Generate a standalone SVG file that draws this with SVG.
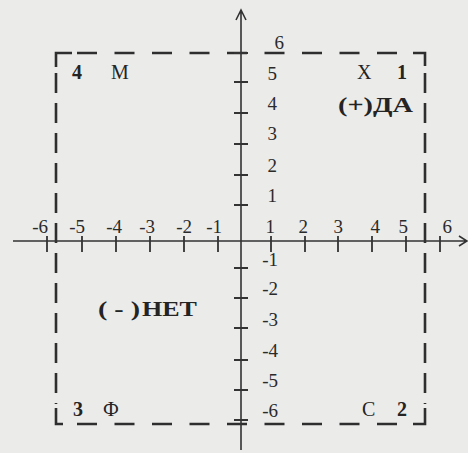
<svg xmlns="http://www.w3.org/2000/svg" width="468" height="453" viewBox="0 0 468 453">
<style>
.ax{stroke:#333;stroke-width:1.6;fill:none}
.tk{stroke:#333;stroke-width:1.8;fill:none}
.bx{stroke:#2e2e2e;stroke-width:2.6;fill:none}
.n{font-family:"Liberation Serif","Times New Roman",serif;font-size:19px;fill:#2a2a2a}
.e{text-anchor:end}
.b{font-weight:bold}
.l{font-family:"Liberation Serif","Times New Roman",serif;font-size:20px;fill:#242424}
</style>
<rect x="0" y="0" width="468" height="453" fill="#ebebea"/>
<g id="frame">
<path class="bx" d="M77 53H413" stroke-dasharray="20 17.5"/>
<path class="bx" d="M77 424H413" stroke-dasharray="20 17.5"/>
<path class="bx" d="M56 73V404" stroke-dasharray="20 10"/>
<path class="bx" d="M425 73V404" stroke-dasharray="20 10"/>
<path class="bx" d="M56 67V53H72"/>
<path class="bx" d="M413 53H425V66"/>
<path class="bx" d="M56 408V424H63"/>
<path class="bx" d="M413 424H425V408"/>
</g>
<g id="connectors">
<path class="ax" d="M241 450V10M236 20L241 10L246 20"/>
<path class="ax" d="M13 241H467M459 236L467 241L459 246"/>
<path class="tk" d="M47 236V252M82 236V252M116 236V252M150 236V252M184 236V252M218 236V252M271 236V252M305 236V252M338 236V252M372 236V252M406 236V252M440 236V252"/>
<path class="tk" d="M234 53H248M234 82H248M234 113H248M234 144H248M234 175H248M234 205H248M234 268H248M234 298H248M234 328H248M234 360H248M234 390H248M234 420H248"/>
</g>
<g id="x-labels" class="n e">
<text x="48" y="233">-6</text>
<text x="85" y="233">-5</text>
<text x="122" y="233">-4</text>
<text x="155" y="233">-3</text>
<text x="192" y="233">-2</text>
<text x="222" y="233">-1</text>
<text x="275" y="233">1</text>
<text x="308" y="233">2</text>
<text x="343" y="233">3</text>
<text x="380" y="233">4</text>
<text x="408" y="233">5</text>
<text x="452" y="233">6</text>
</g>
<g id="y-labels" class="n e">
<text x="284" y="49">6</text>
<text x="277" y="80">5</text>
<text x="277" y="110">4</text>
<text x="277" y="140">3</text>
<text x="277" y="172">2</text>
<text x="277" y="202">1</text>
<text x="278" y="266">-1</text>
<text x="278" y="295">-2</text>
<text x="278" y="326">-3</text>
<text x="278" y="357">-4</text>
<text x="278" y="387">-5</text>
<text x="278" y="417">-6</text>
</g>
<g id="q1">
<text class="l" x="357" y="79">X</text>
<text class="l b" x="397" y="79">1</text>
<text class="l b" x="338" y="112" textLength="35" lengthAdjust="spacingAndGlyphs">(+)</text>
<text class="l b" x="373" y="112" textLength="40" lengthAdjust="spacingAndGlyphs">ДА</text>
</g>
<g id="q4">
<text class="l b" x="72" y="79">4</text>
<text class="l" x="111" y="79">M</text>
</g>
<g id="q3">
<text class="l b" x="73" y="416">3</text>
<text class="l" x="103" y="416">Ф</text>
<text class="l b" x="98" y="316" textLength="42" lengthAdjust="spacingAndGlyphs">( - )</text>
<text class="l b" x="142" y="316" textLength="55" lengthAdjust="spacingAndGlyphs">НЕТ</text>
</g>
<g id="q2">
<text class="l" x="362" y="416">С</text>
<text class="l b" x="397" y="416">2</text>
</g>
</svg>
